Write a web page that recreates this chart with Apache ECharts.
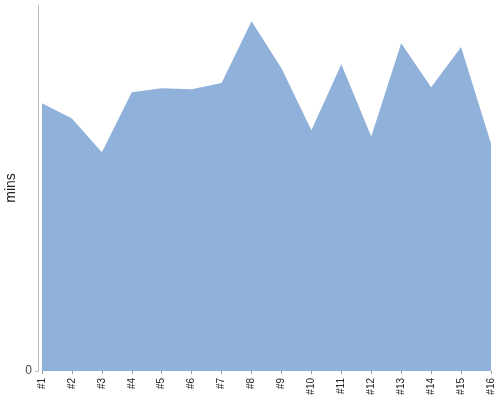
<!DOCTYPE html>
<html>
<head>
<meta charset="utf-8">
<script src="https://cdn.jsdelivr.net/npm/echarts@6/dist/echarts.min.js"></script>
<style>
  html, body { margin: 0; padding: 0; background: #fff; }
  #chart { width: 500px; height: 400px; }
</style>
</head>
<body>
<div id="chart"></div>
<script>
const categories = ["#1", "#2", "#3", "#4", "#5", "#6", "#7", "#8",
  "#9", "#10", "#11", "#12", "#13", "#14", "#15", "#16"];
const minutes = [87.8, 82.8, 71.7, 91.4, 92.7, 92.4, 94.4, 114.7,
  99.3, 78.9, 100.6, 76.9, 107.5, 93.0, 106.2, 74.6];
const yTicks = [0];

const chart = echarts.init(document.getElementById("chart"));
const font = "Liberation Sans, Arial, sans-serif";

chart.setOption({
  animation: false,
  grid: { top: 5, right: 9, bottom: 29, left: 42, outerBoundsMode: "none", containLabel: false },
  xAxis: {
    type: "category",
    data: categories,
    boundaryGap: false,
    axisLine: { show: false },
    axisTick: { show: true, length: 3, alignWithLabel: true, lineStyle: { color: "#999" } },
    axisLabel: { rotate: 90, fontSize: 10, color: "#222", fontFamily: font, margin: 7, interval: 0 }
  },
  yAxis: {
    type: "value",
    min: 0,
    max: 120,
    offset: 4,
    name: "mins",
    nameLocation: "middle",
    nameGap: 20,
    nameMoveOverlap: false,
    nameTextStyle: { fontSize: 14, color: "#222", fontFamily: font },
    splitLine: { show: false },
    axisLine: { show: true, lineStyle: { color: "#bbb" } },
    axisTick: { show: true, length: 3, customValues: yTicks, lineStyle: { color: "#bbb" } },
    axisLabel: { customValues: yTicks, fontSize: 12, color: "#444", fontFamily: font, margin: 6 }
  },
  series: [{
    type: "line",
    data: minutes,
    symbol: "none",
    lineStyle: { width: 0 },
    areaStyle: { color: "#8fb1da", opacity: 1 }
  }]
});
</script>
</body>
</html>
